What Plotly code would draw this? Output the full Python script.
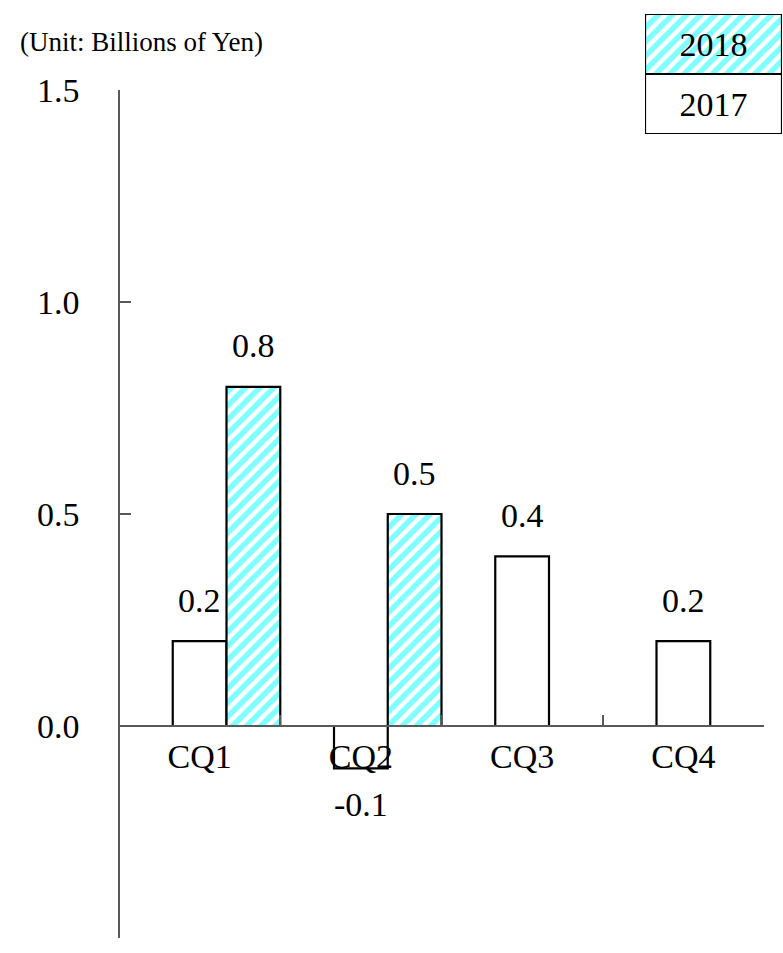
import plotly.graph_objects as go

# ---- data ----
categories = ["CQ1", "CQ2", "CQ3", "CQ4"]
series_names = ["2017", "2018"]
values_2017 = [0.2, -0.1, 0.4, 0.2]
values_2018 = [0.8, 0.5, None, None]
y_tick_values = [-0.5, 0.0, 0.5, 1.0, 1.5]
y_tick_labels = ["-0.5", "0.0", "0.5", "1.0", "1.5"]
unit_label = "(Unit: Billions of Yen)"

# ---- layout constants (pixels) ----
W, H = 783, 953
PL, PR, PT, PB = 119, 764, 90, 938          # plot area edges
LG_L, LG_R, LG_T, LG_B = 645, 782, 14, 134  # legend box edges
FONT = "Liberation Serif"
FS = 34
AXIS_COLOR = "#595959"
CYAN = "#00FFFF"

def fx(px):
    return px / W

def fy(py):
    return (H - py) / H

hatch = dict(shape="/", fgcolor=CYAN, bgcolor="white", size=10, solidity=0.55)

fig = go.Figure()

fig.add_trace(go.Bar(
    x=categories, y=values_2017, name=series_names[0],
    offset=-1/6, width=1/3,
    marker=dict(color="white", line=dict(color="black", width=2.2)),
    showlegend=False,
))
fig.add_trace(go.Bar(
    x=categories, y=values_2018, name=series_names[1],
    offset=1/6, width=1/3,
    marker=dict(color="white", pattern=hatch, line=dict(color="black", width=2.2)),
    showlegend=False,
))

# legend drawn as two stacked cells on a small hidden axis pair
for k, base in ((0, 0), (1, 1)):
    fig.add_trace(go.Bar(
        x=[0.5], y=[1], base=[base], width=1, text=[series_names[k]],
        textposition="inside", insidetextanchor="middle", textangle=0,
        textfont=dict(family=FONT, size=FS, color="black"),
        marker=dict(color="white", line=dict(color="black", width=2.2),
                    **({"pattern": hatch} if k == 1 else {})),
        xaxis="x2", yaxis="y2", showlegend=False, hoverinfo="skip",
    ))

annotations = []
for series, shift in ((values_2017, 0.0), (values_2018, 1/3)):
    for i, v in enumerate(series):
        if v is None:
            continue
        annotations.append(dict(
            x=i + shift, y=v, xref="x", yref="y", text=f"{v:.1f}",
            showarrow=False, yshift=41 if v >= 0 else -36,
            font=dict(family=FONT, size=FS, color="black"),
        ))
annotations.append(dict(
    x=fx(18), y=fy(42), xref="paper", yref="paper", text=unit_label,
    showarrow=False, xanchor="left", yanchor="middle",
    font=dict(family=FONT, size=27, color="black"),
))

fig.update_layout(
    width=W, height=H,
    margin=dict(l=0, r=0, t=0, b=0, autoexpand=False),
    paper_bgcolor="white", plot_bgcolor="white",
    barmode="overlay",
    font=dict(family=FONT, color="black"),
    annotations=annotations,
    xaxis=dict(
        type="category", domain=[fx(PL), fx(PR)], range=[-0.5, 3.5],
        anchor="free", position=fy(PT + (PB - PT) * 0.75),
        showline=True, linecolor=AXIS_COLOR, linewidth=1.5,
        ticks="inside", tickson="boundaries", ticklen=10, tickwidth=1.5,
        tickcolor=AXIS_COLOR, showgrid=False, zeroline=False,
        tickfont=dict(family=FONT, size=FS, color="black"),
        ticklabelstandoff=0, automargin=False,
    ),
    yaxis=dict(
        domain=[fy(PB), fy(PT)], range=[-0.5, 1.5],
        anchor="free", position=fx(PL),
        showline=True, linecolor=AXIS_COLOR, linewidth=1.5,
        ticks="inside", ticklen=11, tickwidth=1.5, tickcolor=AXIS_COLOR,
        tickvals=y_tick_values, ticktext=y_tick_labels,
        showgrid=False, zeroline=False,
        tickfont=dict(family=FONT, size=FS, color="black"),
        ticklabelstandoff=32, automargin=False,
    ),
    xaxis2=dict(domain=[fx(LG_L), fx(LG_R)], range=[0, 1], visible=False,
                anchor="y2", fixedrange=True, automargin=False),
    yaxis2=dict(domain=[fy(LG_B), fy(LG_T)], range=[0, 2], visible=False,
                anchor="x2", fixedrange=True, automargin=False),
)

fig.write_html("out.html")
